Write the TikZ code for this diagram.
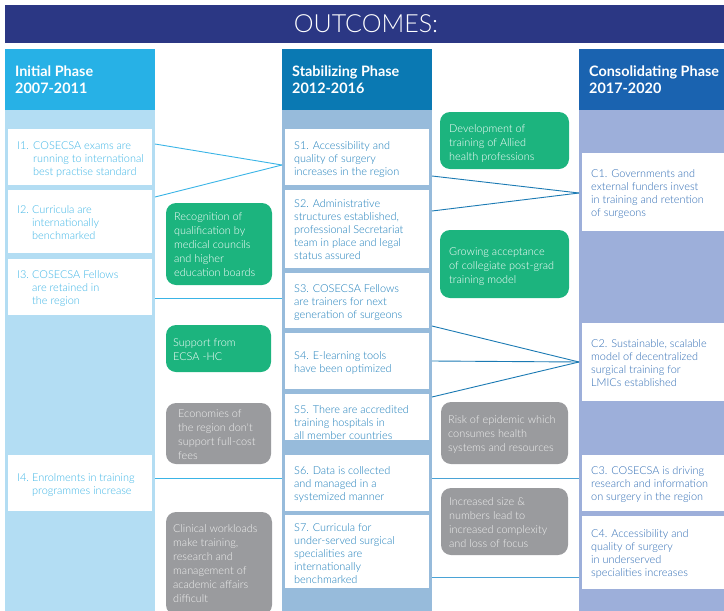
\documentclass[tikz,border=0pt]{standalone}
\usepackage{fontspec}
\setmainfont{Lato}
\IfFontExistsTF{Lato Light}{\newfontfamily\lightfont{Lato Light}}{\newfontfamily\lightfont{Lato}}
\definecolor{navy}{HTML}{2B3784}
\definecolor{iniHead}{HTML}{27B1E6}
\definecolor{iniBody}{HTML}{B3DDF3}
\definecolor{stabHead}{HTML}{0A79B3}
\definecolor{stabBody}{HTML}{97BBDB}
\definecolor{consHead}{HTML}{1A63B0}
\definecolor{consBody}{HTML}{9DAFDA}
\definecolor{grn}{HTML}{1CB47E}
\definecolor{gry}{HTML}{9A9B9E}
\definecolor{iniText}{HTML}{3DB5E6}
\definecolor{stabText}{HTML}{1B7DBA}
\definecolor{consText}{HTML}{2F6CB4}
\definecolor{lineI}{HTML}{3AB4E6}
\definecolor{lineS}{HTML}{1B7AB3}
\definecolor{lineL}{HTML}{4AA3D6}
\begin{document}
\begin{tikzpicture}[x=1pt,y=-1pt,
  rect/.style={anchor=north west, inner sep=0pt, outer sep=0pt, draw=none},
  wbox/.style={rect, fill=white},
  gbox/.style={rect, fill=grn, rounded corners=10pt},
  rbox/.style={rect, fill=gry, rounded corners=10pt},
  otxt/.style={anchor=north west, inner sep=0pt, align=left, font=\lightfont\fontsize{10.9}{13}\selectfont},
  itxt/.style={otxt, text=iniText},
  stxt/.style={otxt, text=stabText},
  ctxt/.style={otxt, text=consText},
  gtxt/.style={anchor=north west, inner sep=0pt, align=left, font=\lightfont\fontsize{10.9}{14}\selectfont, text=white},
  rtxt/.style={gtxt, text=black!6},
  htxt/.style={anchor=north west, inner sep=0pt, align=left, font=\fontsize{14.4}{17}\selectfont\bfseries, text=white},
  conI/.style={draw=lineI, line width=0.9pt},
  conS/.style={draw=lineS, line width=0.9pt},
  conL/.style={draw=lineL, line width=0.9pt}
]
\useasboundingbox (0,0) rectangle (724,611);
% title bar
\node[rect, fill=navy, minimum width=719pt, minimum height=38pt] (bar) at (5,5) {};
\node[inner sep=0pt, font=\lightfont\fontsize{25}{30}\selectfont, text=white] (title) at (366,24) {OUTCOMES:};
% columns
\node[rect, fill=iniHead, minimum width=150pt, minimum height=61pt] (hI) at (5,49) {};
\node[rect, fill=iniBody, minimum width=150pt, minimum height=502pt] (colI) at (5,110) {};
\node[rect, fill=stabHead, minimum width=150pt, minimum height=61pt] (hS) at (282,49) {};
\node[rect, fill=stabBody, minimum width=150pt, minimum height=502pt] (colS) at (282,110) {};
\node[rect, fill=consHead, minimum width=146pt, minimum height=61pt] (hC) at (579,49) {};
\node[rect, fill=consBody, minimum width=146pt, minimum height=502pt] (colC) at (579,110) {};
\node[htxt] (hIt) at (15,66) {Initial Phase\\2007-2011};
\node[htxt] (hSt) at (292,66) {Stabilizing Phase\\2012-2016};
\node[htxt] (hCt) at (589,66) {Consolidating Phase\\2017-2020};
% initial boxes
\node[wbox, minimum width=144pt, minimum height=56pt] (I1) at (8,129) {};
\node[wbox, minimum width=144pt, minimum height=63pt] (I2) at (8,190) {};
\node[wbox, minimum width=144pt, minimum height=56pt] (I3) at (8,259) {};
\node[wbox, minimum width=144pt, minimum height=56pt] (I4) at (8,455) {};
\node[itxt] (I1t) at (17,141.5) {\makebox[16pt][l]{I1.}COSECSA exams are\\\hspace*{16pt}running to international\\\hspace*{16pt}best practise standard};
\node[itxt] (I2t) at (17,205.5) {\makebox[15pt][l]{I2.}Curricula are\\\hspace*{15pt}internationally\\\hspace*{15pt}benchmarked};
\node[itxt] (I3t) at (17,270.5) {\makebox[15pt][l]{I3.}COSECSA Fellows\\\hspace*{15pt}are retained in\\\hspace*{15pt}the region};
\node[itxt] (I4t) at (17,473.5) {\makebox[15pt][l]{I4.}Enrolments in training\\\hspace*{15pt}programmes increase};
% stabilizing boxes
\node[wbox, minimum width=144pt, minimum height=56pt] (S1) at (285,129) {};
\node[wbox, minimum width=144pt, minimum height=78pt] (S2) at (285,190) {};
\node[wbox, minimum width=144pt, minimum height=55pt] (S3) at (285,273) {};
\node[wbox, minimum width=144pt, minimum height=56pt] (S4) at (285,333) {};
\node[wbox, minimum width=144pt, minimum height=46pt] (S5) at (285,394) {};
\node[wbox, minimum width=144pt, minimum height=56pt] (S6) at (285,455) {};
\node[wbox, minimum width=144pt, minimum height=73pt] (S7) at (285,515) {};
\node[stxt] (S1t) at (294,141.5) {S1. Accessibility and\\quality of surgery\\increases in the region};
\node[stxt] (S2t) at (294,199.5) {S2. Administrative\\structures established,\\professional Secretariat\\team in place and legal\\status assured};
\node[stxt] (S3t) at (294,284.5) {S3. COSECSA Fellows\\are trainers for next\\generation of surgeons};
\node[stxt] (S4t) at (294,351.5) {S4. E-learning tools\\have been optimized};
\node[stxt] (S5t) at (294,405.5) {S5. There are accredited\\training hospitals in\\all member countries};
\node[stxt] (S6t) at (294,466.5) {S6. Data is collected\\and managed in a\\systemized manner};
\node[stxt] (S7t) at (294,523.5) {S7. Curricula for\\under-served surgical\\specialities are\\internationally\\benchmarked};
% consolidating boxes
\node[wbox, minimum width=146pt, minimum height=78pt] (C1) at (582,153) {};
\node[wbox, minimum width=146pt, minimum height=78pt] (C2) at (582,323) {};
\node[wbox, minimum width=146pt, minimum height=56pt] (C3) at (582,455) {};
\node[wbox, minimum width=146pt, minimum height=73pt] (C4) at (582,516) {};
\node[ctxt] (C1t) at (591,169.5) {C1. Governments and\\external funders invest\\in training and retention\\of surgeons};
\node[ctxt] (C2t) at (591,339.5) {C2. Sustainable, scalable\\model of decentralized\\surgical training for\\LMICs established};
\node[ctxt] (C3t) at (591,466.5) {C3. COSECSA is driving\\research and information\\on surgery in the region};
\node[ctxt] (C4t) at (591,529.5) {C4. Accessibility and\\quality of surgery\\in underserved\\specialities increases};
% green boxes
\node[gbox, minimum width=129pt, minimum height=57pt] (G1) at (440,112) {};
\node[gbox, minimum width=106pt, minimum height=82pt] (G2) at (166,203) {};
\node[gbox, minimum width=105pt, minimum height=47pt] (G3) at (166,325) {};
\node[gbox, minimum width=129pt, minimum height=68pt] (G4) at (440,230) {};
\node[gtxt] (G1t) at (449,124) {Development of\\training of Allied\\health professions};
\node[gtxt] (G2t) at (174,212) {Recognition of\\qualification by\\medical councils\\and higher\\education boards};
\node[gtxt] (G3t) at (173,338) {Support from\\ECSA -HC};
\node[gtxt] (G4t) at (449,247) {Growing acceptance\\of collegiate post-grad\\training model};
% gray boxes
\node[rbox, minimum width=105pt, minimum height=61pt] (R1) at (166,403) {};
\node[rbox, minimum width=106pt, minimum height=103pt] (R2) at (166,512) {};
\node[rbox, minimum width=127pt, minimum height=62pt] (R3) at (441,402) {};
\node[rbox, minimum width=127pt, minimum height=67pt] (R4) at (441,488) {};
\node[rtxt] (R1t) at (178,409) {Economies of\\the region don't\\support full-cost\\fees};
\node[rtxt] (R2t) at (173,524) {Clinical workloads\\make training,\\research and\\management of\\academic affairs\\difficult};
\node[rtxt] (R3t) at (448,415) {Risk of epidemic which\\consumes health\\systems and resources};
\node[rtxt] (R4t) at (449,497) {Increased size \&\\numbers lead to\\increased complexity\\and loss of focus};
% connectors initial -> stabilizing
\draw[conI] ([shift={(3,15)}]I1.north east) -- ([shift={(-3,36)}]S1.north west);
\draw[conI] ([shift={(3,7)}]I2.north east) -- ([shift={(-3,36)}]S1.north west);
\draw[conI] ([shift={(3,39)}]I3.north east) -- ([shift={(-3,25)}]S3.north west);
\draw[conI] ([shift={(3,23)}]I4.north east) -- ([shift={(-3,23)}]S6.north west);
% connectors stabilizing -> consolidating
\draw[conS] ([shift={(3,47)}]S1.north east) -- ([shift={(-3,40)}]C1.north west);
\draw[conS] ([shift={(3,21)}]S2.north east) -- ([shift={(-3,40)}]C1.north west);
\draw[conS] ([shift={(3,53)}]S3.north east) -- ([shift={(-3,39)}]C2.north west);
\draw[conS] ([shift={(3,28)}]S4.north east) -- ([shift={(-3,39)}]C2.north west);
\draw[conS] ([shift={(3,3)}]S5.north east) -- ([shift={(-3,39)}]C2.north west);
\draw[conL] ([shift={(3,23)}]S6.north east) -- ([shift={(-3,23)}]C3.north west);
\draw[conL] ([shift={(3,62)}]S7.north east) -- ([shift={(-3,61)}]C4.north west);
\end{tikzpicture}
\end{document}
